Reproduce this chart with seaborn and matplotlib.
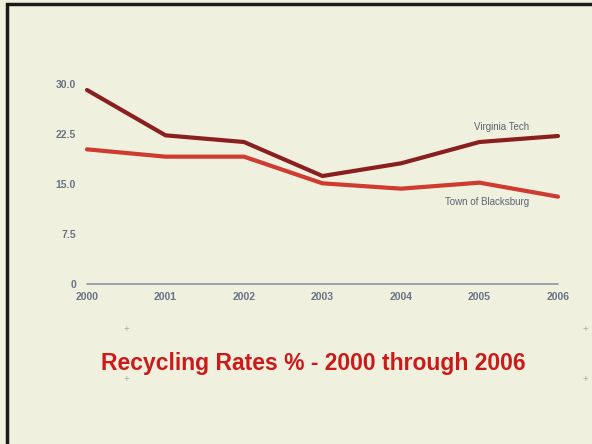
import pandas as pd
import seaborn as sns
import matplotlib
matplotlib.use("Agg")
import matplotlib.pyplot as plt
from matplotlib.patches import Rectangle

years = [2000, 2001, 2002, 2003, 2004, 2005, 2006]
virginia_tech = [29.1, 22.3, 21.3, 16.2, 18.1, 21.3, 22.2]
blacksburg = [20.2, 19.1, 19.1, 15.1, 14.3, 15.2, 13.1]
y_ticks = [0, 7.5, 15.0, 22.5, 30.0]
y_labels = ["0", "7.5", "15.0", "22.5", "30.0"]

df = pd.DataFrame({
    "year": years * 2,
    "rate": virginia_tech + blacksburg,
    "series": ["Virginia Tech"] * len(years) + ["Town of Blacksburg"] * len(years),
})

sns.set_theme(style="white")
plt.rcParams["font.family"] = ["Liberation Sans", "DejaVu Sans"]

bg = "#f0f0df"
fig = plt.figure(figsize=(5.92, 4.44), dpi=100, facecolor=bg)

# slide edge
fig.patches.append(Rectangle((7 / 592, -0.1), 1.2, 1 - 4 / 444 + 0.1,
                             transform=fig.transFigure, fill=False,
                             edgecolor="#1a1a1a", linewidth=2.5))

ax = fig.add_axes([87 / 592, (444 - 284) / 444, (558 - 87) / 592, 200 / 444])
ax.set_facecolor(bg)
sns.lineplot(data=df, x="year", y="rate", hue="series", ax=ax,
             palette={"Virginia Tech": "#8a1f1f", "Town of Blacksburg": "#cf3b31"},
             linewidth=3, legend=False)
for ln in ax.get_lines():
    ln.set_clip_on(False)
    ln.set_solid_joinstyle("round")

ax.set_xlim(2000, 2006)
ax.set_ylim(0, 30)
for s in ax.spines.values():
    s.set_visible(False)
ax.axhline(0, color="#8e95a0", linewidth=1.2, clip_on=False)

tick_color = "#6a7385"
ax.set_yticks(y_ticks)
ax.set_yticklabels(y_labels, fontsize=7.5, fontweight="bold", color=tick_color)
ax.set_xticks(years)
ax.set_xticklabels([str(y) for y in years], fontsize=7.5, fontweight="bold", color=tick_color)
ax.tick_params(axis="y", length=0, pad=8)
ax.tick_params(axis="x", length=0, pad=6)
ax.set_xlabel("")
ax.set_ylabel("")

label_color = "#5a6372"
fig.text(502 / 592, 1 - 127 / 444, "Virginia Tech", ha="center", va="center",
         fontsize=7, color=label_color)
fig.text(487 / 592, 1 - 202 / 444, "Town of Blacksburg", ha="center", va="center",
         fontsize=7, color=label_color)

fig.text(313 / 592, 1 - 363 / 444, "Recycling Rates % - 2000 through 2006",
         ha="center", va="center", fontsize=16.5, fontweight="bold", color="#cc1a1a")

for (px, py) in [(126, 329), (585, 329), (126, 379), (585, 379)]:
    fig.text(px / 592, 1 - py / 444, "+", ha="center", va="center",
             fontsize=7, color="#a8afb8")

fig.savefig("out.png", dpi=100, facecolor=bg)
